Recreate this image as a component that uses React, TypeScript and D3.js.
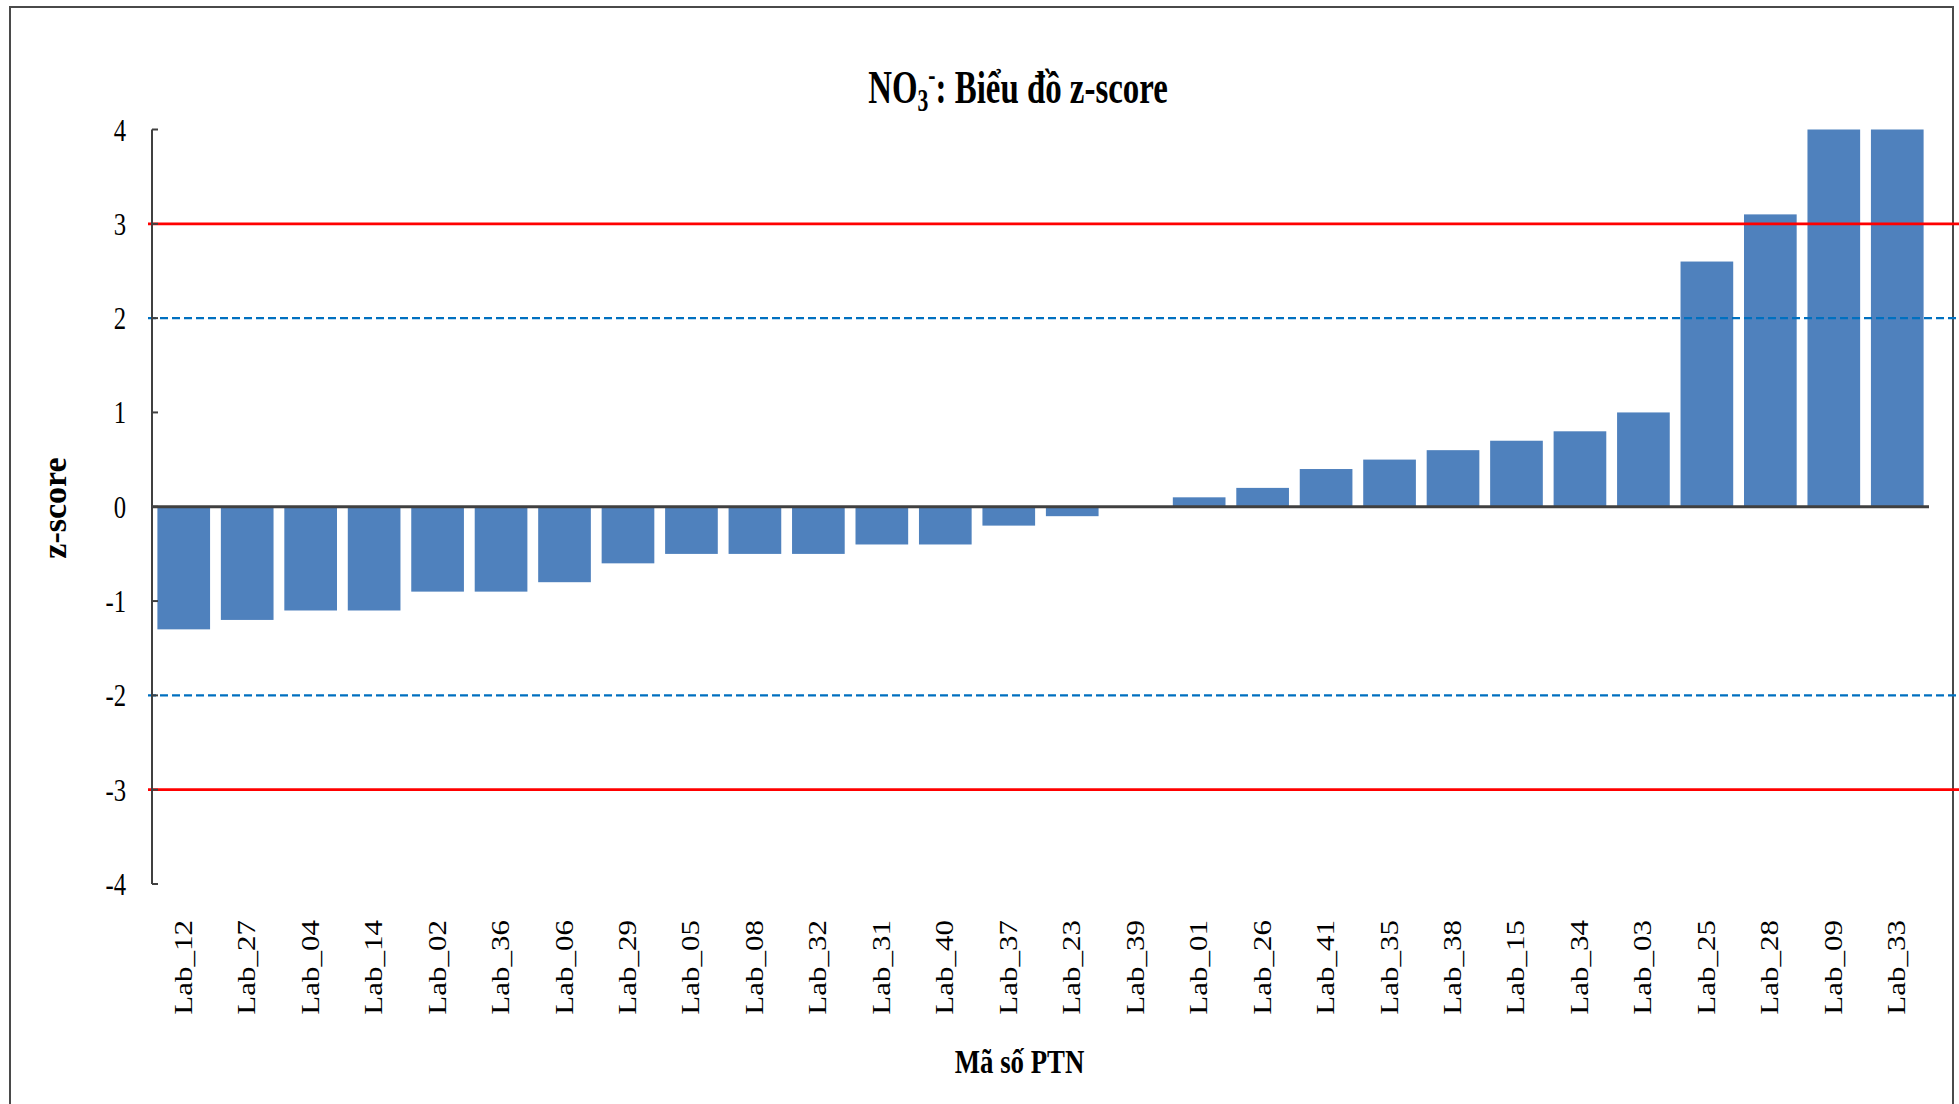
import React from "react";
import * as d3 from "d3";

const categories = [
  "Lab_12", "Lab_27", "Lab_04", "Lab_14", "Lab_02", "Lab_36", "Lab_06", "Lab_29",
  "Lab_05", "Lab_08", "Lab_32", "Lab_31", "Lab_40", "Lab_37", "Lab_23", "Lab_39",
  "Lab_01", "Lab_26", "Lab_41", "Lab_35", "Lab_38", "Lab_15", "Lab_34", "Lab_03",
  "Lab_25", "Lab_28", "Lab_09", "Lab_33",
];
const zScores = [
  -1.3, -1.2, -1.1, -1.1, -0.9, -0.9, -0.8, -0.6,
  -0.5, -0.5, -0.5, -0.4, -0.4, -0.2, -0.1, 0,
  0.1, 0.2, 0.4, 0.5, 0.6, 0.7, 0.8, 1.0,
  2.6, 3.1, 4.0, 4.0,
];
const yTicks = [-4, -3, -2, -1, 0, 1, 2, 3, 4];
const warningLimits = [-2, 2];
const actionLimits = [-3, 3];

const W = 1959;
const H = 1104;
const SERIF = "'Liberation Serif', 'Times New Roman', Times, serif";

export default function App() {
  const x = d3
    .scaleBand<string>()
    .domain(categories)
    .range([152, 1929])
    .paddingInner(0.17)
    .paddingOuter(0.085);
  const y = d3.scaleLinear().domain([-4, 4]).range([884, 129.5]);
  const y0 = y(0);
  const axisX = 152;

  return (
    <svg
      width={W}
      height={H}
      style={{ position: "absolute", left: 0, top: 0, background: "#fff" }}
    >
      <rect x={0} y={0} width={W} height={H} fill="#fff" />
      {/* outer chart border */}
      <rect x={10} y={7} width={1943} height={1110} fill="none" stroke="#4a4a4a" strokeWidth={2} />

      {/* bars */}
      {categories.map((c, i) => {
        const v = zScores[i];
        if (v === 0) return null;
        const yv = y(v);
        return (
          <rect
            key={c}
            x={x(c)}
            width={x.bandwidth()}
            y={Math.min(yv, y0)}
            height={Math.abs(yv - y0)}
            fill="#4F81BD"
          />
        );
      })}

      {/* limit lines */}
      {warningLimits.map((v) => (
        <line key={"w" + v} x1={148} x2={W} y1={y(v)} y2={y(v)} stroke="#0070C0" strokeWidth={2.25} strokeDasharray="8,4" />
      ))}
      {actionLimits.map((v) => (
        <line key={"a" + v} x1={148} x2={W} y1={y(v)} y2={y(v)} stroke="#FF0000" strokeWidth={2.75} />
      ))}

      {/* zero axis line */}
      <line x1={axisX} x2={1929} y1={y0} y2={y0} stroke="#404040" strokeWidth={3} />

      {/* y axis */}
      <line x1={axisX} x2={axisX} y1={y(4)} y2={y(-4)} stroke="#404040" strokeWidth={2} />
      {yTicks.map((t) => (
        <g key={t}>
          <line x1={axisX} x2={axisX + 6} y1={y(t)} y2={y(t)} stroke="#404040" strokeWidth={2} />
          <text
            transform={`translate(126,${y(t) + 11}) scale(0.76,1)`}
            textAnchor="end"
            fontFamily={SERIF}
            fontSize={32.5}
            fill="#000"
          >
            {String(t)}
          </text>
        </g>
      ))}

      {/* x category labels */}
      {categories.map((c) => {
        const cx = (x(c) as number) + x.bandwidth() / 2;
        return (
          <text
            key={"l" + c}
            transform={`translate(${cx + 8},920) rotate(-90) scale(1,0.8)`}
            textAnchor="end"
            fontFamily={SERIF}
            fontSize={31}
            fill="#000"
          >
            {c}
          </text>
        );
      })}

      {/* title */}
      <text
        transform="translate(1018,102.7) scale(0.7,1)"
        textAnchor="middle"
        fontFamily={SERIF}
        fontWeight="bold"
        fontSize={47}
        fill="#000"
      >
        NO
        <tspan fontSize={31} dy={8}>3</tspan>
        <tspan fontSize={31} dy={-26}>-</tspan>
        <tspan dy={18}>: Biểu đồ z-score</tspan>
      </text>

      {/* y axis title */}
      <text
        transform="translate(66,508) rotate(-90)"
        textAnchor="middle"
        fontFamily={SERIF}
        fontWeight="bold"
        fontSize={34}
        fill="#000"
      >
        z-score
      </text>

      {/* x axis title */}
      <text
        transform="translate(1019.5,1073) scale(0.82,1)"
        textAnchor="middle"
        fontFamily={SERIF}
        fontWeight="bold"
        fontSize={32.7}
        fill="#000"
      >
        Mã số PTN
      </text>
    </svg>
  );
}
